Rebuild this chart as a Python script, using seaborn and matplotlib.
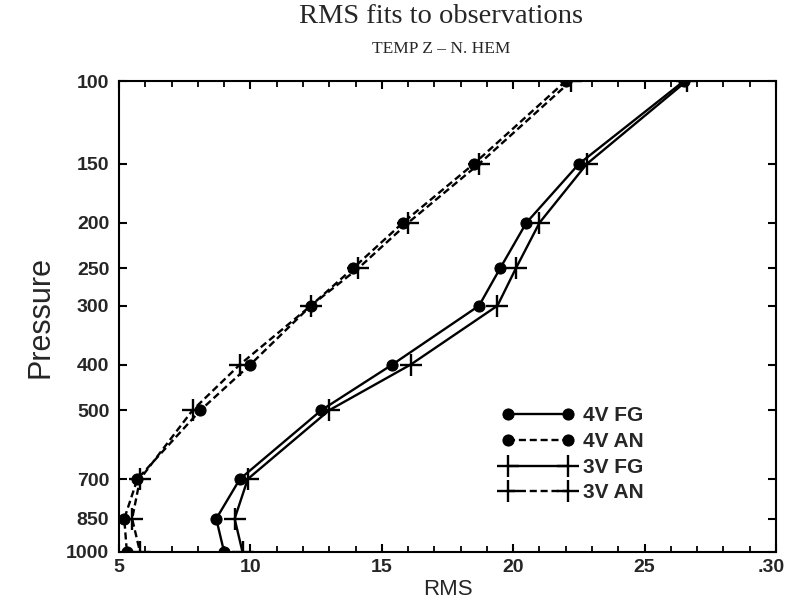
import matplotlib
matplotlib.use("Agg")
import matplotlib.pyplot as plt
import matplotlib.transforms as mtransforms
import seaborn as sns
from matplotlib.ticker import FixedLocator, MultipleLocator, NullLocator, FixedFormatter

# ---- data ----
pressure = [100, 150, 200, 250, 300, 400, 500, 700, 850, 1000]
fg_4v = [26.5, 22.5, 20.5, 19.5, 18.7, 15.4, 12.7, 9.6, 8.7, 9.0]
an_4v = [22.0, 18.5, 15.8, 13.9, 12.3, 10.0, 8.1, 5.7, 5.2, 5.3]
fg_3v = [26.6, 22.8, 21.0, 20.1, 19.4, 16.1, 13.0, 9.9, 9.4, 9.7]
an_3v = [22.2, 18.7, 16.0, 14.1, 12.3, 9.6, 7.8, 5.8, 5.5, 5.8]
series_labels = ["4V FG", "4V AN", "3V FG", "3V AN"]
y_ticks = [100, 150, 200, 250, 300, 400, 500, 700, 850, 1000]
y_ticklabels = ["100", "150", "200", "250", "300", "400", "500", "700", "850", "1000"]
x_ticks = [5, 10, 15, 20, 25, 30]
x_ticklabels = ["5", "10", "15", "20", "25", ".30"]

sns.set_theme(style="ticks")
plt.rcParams['font.family'] = ['Liberation Sans', 'DejaVu Sans']

fig = plt.figure(figsize=(7.86, 6.03), dpi=100)
ax = fig.add_axes([119/786, 1 - 552/603, (776-119)/786, (552-81)/603])

common = dict(ax=ax, sort=False, estimator=None, color="black", linewidth=1.7)
dash = (0, (3, 1.6))
sns.lineplot(x=fg_4v, y=pressure, marker="o", markersize=8, markeredgecolor="black",
             label=series_labels[0], **common)
sns.lineplot(x=an_4v, y=pressure, marker="o", markersize=8, markeredgecolor="black",
             linestyle=dash, label=series_labels[1], **common)
sns.lineplot(x=fg_3v, y=pressure, marker="+", markersize=16, markeredgewidth=1.7,
             markeredgecolor="black", label=series_labels[2], **common)
sns.lineplot(x=an_3v, y=pressure, marker="+", markersize=16, markeredgewidth=1.7,
             markeredgecolor="black", linestyle=dash, label=series_labels[3], **common)

ax.set_yscale("log")
ax.set_ylim(1000, 100)
ax.set_xlim(5, 30)
ax.yaxis.set_major_locator(FixedLocator(y_ticks))
ax.yaxis.set_major_formatter(FixedFormatter(y_ticklabels))
ax.yaxis.set_minor_locator(NullLocator())
ax.xaxis.set_major_locator(FixedLocator(x_ticks))
ax.xaxis.set_major_formatter(FixedFormatter(x_ticklabels))
ax.xaxis.set_minor_locator(MultipleLocator(1))

for side in ["top", "right", "left", "bottom"]:
    ax.spines[side].set_visible(True)
    ax.spines[side].set_linewidth(1.5)
    ax.spines[side].set_color("black")

ax.tick_params(axis="both", which="major", direction="in", top=True, right=True,
               length=6, width=1.5, color="black", labelsize=14, pad=7)
ax.tick_params(axis="x", which="major", pad=5)
ax.tick_params(axis="x", which="minor", direction="in", top=True, bottom=True,
               length=4, width=1.3, color="black")
for lab in ax.get_xticklabels() + ax.get_yticklabels():
    lab.set_fontweight("bold")

# nudge the last x label (".30") so it stays inside the figure
last = ax.get_xticklabels()[-1]
last.set_horizontalalignment("right")
last.set_transform(last.get_transform() + mtransforms.ScaledTranslation(9/100, 0, fig.dpi_scale_trans))

ax.set_ylabel("Pressure", fontsize=22, labelpad=8)
ax.set_xlabel("RMS", fontsize=16, labelpad=2)

fig.text(0.561, 0.972, "RMS fits to observations", ha="center", va="center",
         fontsize=20.5, family="Liberation Serif")
fig.text(0.561, 0.918, "TEMP Z \u2013 N. HEM", ha="center", va="center",
         fontsize=12.5, family="Liberation Serif")

leg = ax.legend(loc="lower right", bbox_to_anchor=(0.815, 0.083), frameon=False,
                handlelength=3.5, handletextpad=0.43, labelspacing=0.32,
                borderpad=0, numpoints=2, prop={"weight": "bold", "size": 15})

fig.savefig("out.png", dpi=100, facecolor="white")
